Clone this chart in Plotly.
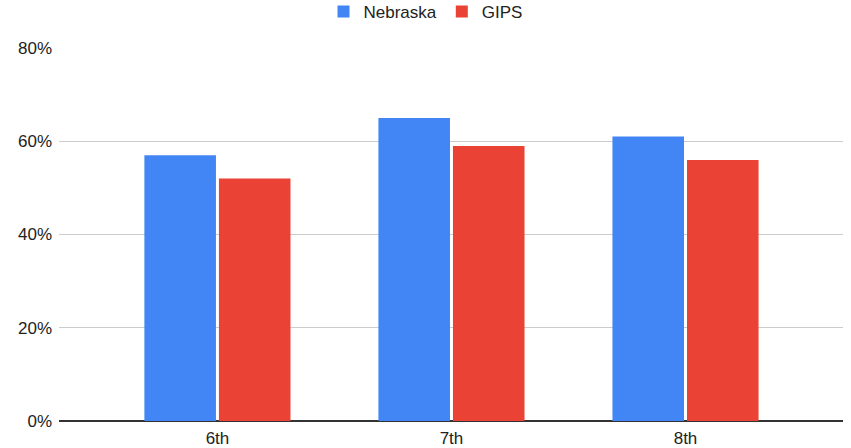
import plotly.graph_objects as go

categories = ["6th", "7th", "8th"]
nebraska = [0.57, 0.65, 0.61]
gips = [0.52, 0.59, 0.56]
y_ticks = [0, 0.2, 0.4, 0.6, 0.8]
y_tick_labels = ["0%", "20%", "40%", "60%", "80%"]

FONT = "Arial, 'Liberation Sans', sans-serif"

fig = go.Figure()
fig.add_trace(go.Bar(name="Nebraska", x=categories, y=nebraska, marker_color="#4285f4", marker_line_width=0))
fig.add_trace(go.Bar(name="GIPS", x=categories, y=gips, marker_color="#ea4335", marker_line_width=0))

fig.update_layout(
    width=851, height=448,
    margin=dict(l=59, r=8, t=48, b=27, autoexpand=False),
    paper_bgcolor="white", plot_bgcolor="white",
    font=dict(family=FONT, size=17, color="#222222"),
    barmode="group", bargap=0.363, bargroupgap=0.04,
    legend=dict(orientation="h", x=0.5, xanchor="center", xref="container",
                y=1.0965, yanchor="middle", yref="paper",
                font=dict(family=FONT, size=17, color="#222222"), itemwidth=30,
                traceorder="normal"),
    xaxis=dict(range=[-0.677, 2.673], showgrid=False, showline=False, ticks="",
               ticklabelstandoff=5, tickfont=dict(family=FONT, size=17, color="#222222")),
    yaxis=dict(range=[0, 0.8], tickvals=y_ticks, ticktext=y_tick_labels,
               showgrid=True, gridcolor="#cccccc", gridwidth=1, zeroline=True,
               zerolinecolor="#333333", zerolinewidth=1.5, ticks="", ticklabelstandoff=6,
               tickfont=dict(family=FONT, size=17, color="#222222"), fixedrange=True),
)
fig.write_html("out.html",
               config={"displayModeBar": False},
               post_script="document.body.style.margin='0';document.body.style.overflow='hidden';")
